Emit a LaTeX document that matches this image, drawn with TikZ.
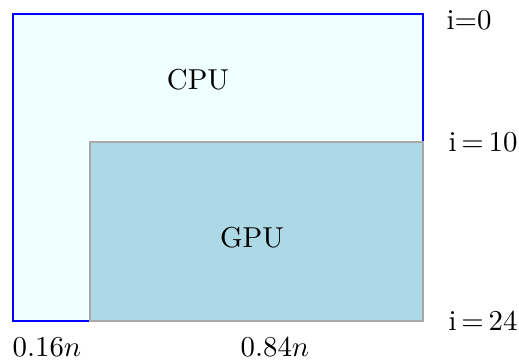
\documentclass[tikz,border=0pt]{standalone}
\definecolor{cpufill}{HTML}{F0FFFF}
\definecolor{gpufill}{HTML}{ADD8E6}
\definecolor{gpuline}{HTML}{A9A9A9}
\tikzset{
  cpubox/.style={draw=blue, fill=cpufill, line width=0.7pt},
  gpubox/.style={draw=gpuline, fill=gpufill, line width=0.7pt},
  lbl/.style={inner sep=0pt, font=\normalsize}
}
\begin{document}
\begin{tikzpicture}[x=0.347pt, y=-0.347pt]
\useasboundingbox (0,0) rectangle (519,360);
\draw[cpubox] (13,14) rectangle (423,321);
\draw[gpubox] (90,142) rectangle (423,321);
\node[lbl] (cpu) at (198,80) {CPU};
\node[lbl] (gpu) at (252,238) {GPU};
\node[lbl, anchor=west] (i0) at (446,20) {i=0};
\node[lbl, anchor=west] (i10) at (448,142) {i\,=\,10};
\node[lbl, anchor=west] (i24) at (448,321) {i\,=\,24};
\node[lbl] (p16) at (47,347) {$0.16n$};
\node[lbl] (p84) at (275,347) {$0.84n$};
\end{tikzpicture}
\end{document}
